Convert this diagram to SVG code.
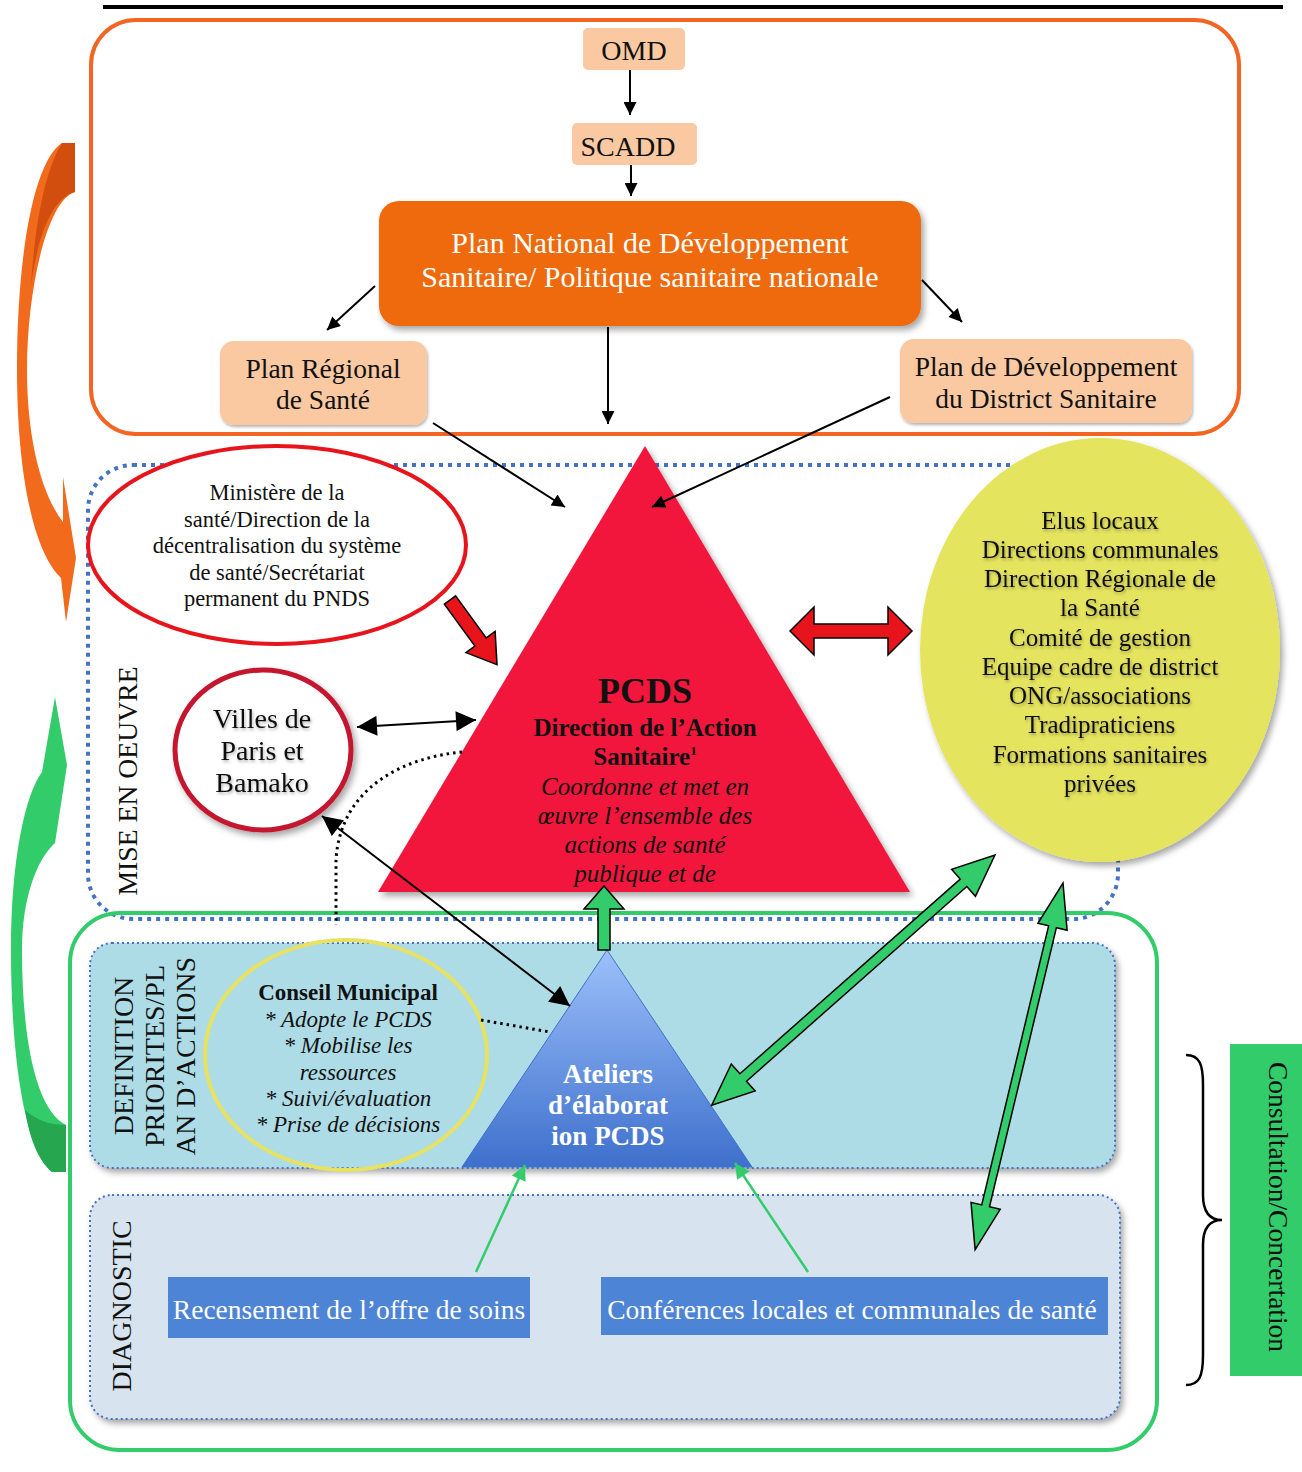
<svg xmlns="http://www.w3.org/2000/svg" width="1302" height="1472" viewBox="0 0 1302 1472">
<defs>
<style>
.t{font-family:"Liberation Serif","Times New Roman",serif;fill:#111;}
.c{text-anchor:middle;}
.w{fill:#fff;}
.b{font-weight:bold;}
.i{font-style:italic;}
.peach{fill:#FAC9A2;}
.ln{stroke:#000;stroke-width:2;fill:none;}
.gl{stroke:#33CC6B;stroke-width:2.5;fill:none;}
.dotb{fill:none;stroke:#4472C4;stroke-width:4;stroke-dasharray:4 5;}
.band{stroke:#4472C4;stroke-width:2;stroke-dasharray:2 3;}
</style>
<marker id="ah" viewBox="0 0 10 10" refX="10" refY="5" markerWidth="18" markerHeight="13" markerUnits="userSpaceOnUse" orient="auto-start-reverse"><path d="M0,0 L10,5 L0,10 z" fill="#000"/></marker>
<marker id="ahL" viewBox="0 0 10 10" refX="10" refY="5" markerWidth="22" markerHeight="20" markerUnits="userSpaceOnUse" orient="auto-start-reverse"><path d="M0,0 L10,5 L0,10 z" fill="#000"/></marker>
<marker id="gh" viewBox="0 0 10 10" refX="10" refY="5" markerWidth="18" markerHeight="15" markerUnits="userSpaceOnUse" orient="auto"><path d="M0,0 L10,5 L0,10 z" fill="#33CC6B"/></marker>
<filter id="sh" x="-10%" y="-10%" width="130%" height="130%"><feDropShadow dx="3" dy="4" stdDeviation="3" flood-color="#000" flood-opacity="0.35"/></filter>
<filter id="tsh" x="-5%" y="-20%" width="110%" height="150%"><feDropShadow dx="1" dy="2" stdDeviation="1.5" flood-color="#000" flood-opacity="0.3"/></filter>
<linearGradient id="atg" x1="0" y1="0" x2="0" y2="1"><stop offset="0" stop-color="#9CC0FA"/><stop offset="1" stop-color="#3E70CC"/></linearGradient>
</defs>

<line x1="103" y1="7" x2="1283" y2="7" stroke="#000" stroke-width="4"/>

<g id="zone-national">
<rect x="91" y="20" width="1148" height="414" rx="45" fill="none" stroke="#F26522" stroke-width="4"/>
</g>

<g id="zone-mise-en-oeuvre">
<rect x="88" y="465" width="1030" height="454" rx="45" class="dotb"/>
<text class="t c" transform="translate(137,781) rotate(-90)" font-size="27.7">MISE EN OEUVRE</text>
</g>

<g id="zone-consultation">
<rect x="70" y="913" width="1087" height="537" rx="50" fill="none" stroke="#33CC6B" stroke-width="4"/>
</g>

<g id="band-definition">
<rect x="90" y="943" width="1025" height="225" rx="22" fill="#ADDCE6" class="band" filter="url(#sh)"/>
<text class="t c" transform="translate(133,1056) rotate(-90)" font-size="28">DEFINITION</text>
<text class="t c" transform="translate(164,1056) rotate(-90)" font-size="28">PRIORITES/PL</text>
<text class="t c" transform="translate(195,1056) rotate(-90)" font-size="28">AN D’ACTIONS</text>
</g>

<g id="band-diagnostic">
<rect x="90" y="1195" width="1030" height="224" rx="22" fill="#D7E3EF" class="band" filter="url(#sh)"/>
<text class="t c" transform="translate(131,1306) rotate(-90)" font-size="28">DIAGNOSTIC</text>
</g>

<g id="curve-orange">
<path d="M62 143 L75 143 L75 192 C47 200 27 290 27 370 C27 440 42 495 63 522 L63 477 L76 558 L66 622 L61 578 C30 548 17 460 17 370 C17 250 35 160 62 143 Z" fill="#F26A1B"/>
<path d="M62 143 L75 143 L75 192 C52 198 38 235 31 285 C35 225 45 170 62 143 Z" fill="#D24E0E"/>
</g>

<g id="curve-green">
<path d="M66 1172 L52 1172 C25 1150 11 1060 11 950 C11 860 25 795 42 772 L55 697 L67 765 L55 843 C36 860 22 900 22 950 C22 1040 36 1110 66 1125 Z" fill="#33CC6B"/>
<path d="M66 1172 L52 1172 C38 1160 30 1140 25 1110 C36 1120 50 1125 66 1125 Z" fill="#27A650"/>
</g>

<g id="omd"><rect x="583" y="28" width="102" height="42" rx="5" class="peach"/><text class="t c" x="634" y="60" font-size="28">OMD</text></g>
<g id="scadd"><rect x="572" y="123" width="125" height="42" rx="5" class="peach"/><text class="t c" x="628" y="156" font-size="28">SCADD</text></g>
<g id="pnds"><rect x="379" y="201" width="542" height="125" rx="20" fill="#EE6A0B" filter="url(#sh)"/>
<text class="t c w" x="650" y="253" font-size="30">Plan National de Développement</text>
<text class="t c w" x="650" y="287" font-size="30">Sanitaire/ Politique sanitaire nationale</text></g>
<g id="prs"><rect x="220" y="341" width="207" height="84" rx="14" class="peach" filter="url(#tsh)"/>
<text class="t c" x="323" y="378" font-size="27.5">Plan Régional</text>
<text class="t c" x="323" y="409" font-size="27.5">de Santé</text></g>
<g id="pdds"><rect x="900" y="339" width="292" height="84" rx="14" class="peach" filter="url(#tsh)"/>
<text class="t c" x="1046" y="376" font-size="27.5">Plan de Développement</text>
<text class="t c" x="1046" y="408" font-size="27.5">du District Sanitaire</text></g>

<g id="ministere">
<ellipse cx="277" cy="545" rx="189" ry="99" fill="#fff" stroke="#E8141C" stroke-width="4"/>
<g class="t c" font-size="22.5">
<text x="277" y="500">Ministère de la</text>
<text x="277" y="527">santé/Direction de la</text>
<text x="277" y="553">décentralisation du système</text>
<text x="277" y="580">de santé/Secrétariat</text>
<text x="277" y="606">permanent du PNDS</text>
</g></g>

<g id="pcds">
<polygon points="645,446 910,892 378,892" fill="#F2183D" filter="url(#sh)"/>
<g class="t c" fill="#1a0000">
<text x="645" y="703" font-size="36" class="b">PCDS</text>
<text x="645" y="736" font-size="25" class="b">Direction de l’Action</text>
<text x="645" y="765" font-size="25" class="b">Sanitaire<tspan font-size="13" dy="-10">1</tspan></text>
<text x="645" y="795" font-size="25" class="i">Coordonne et met en</text>
<text x="645" y="824" font-size="25" class="i">œuvre l’ensemble des</text>
<text x="645" y="853" font-size="25" class="i">actions de santé</text>
<text x="645" y="882" font-size="25" class="i">publique et de</text>
</g></g>

<g id="acteurs">
<ellipse cx="1100" cy="650" rx="180" ry="212" fill="#E5E45E" filter="url(#sh)"/>
<g class="t c" font-size="25" filter="url(#tsh)">
<text x="1100" y="529">Elus locaux</text>
<text x="1100" y="558">Directions communales</text>
<text x="1100" y="587">Direction Régionale de</text>
<text x="1100" y="616">la Santé</text>
<text x="1100" y="646">Comité de gestion</text>
<text x="1100" y="675">Equipe cadre de district</text>
<text x="1100" y="704">ONG/associations</text>
<text x="1100" y="733">Tradipraticiens</text>
<text x="1100" y="763">Formations sanitaires</text>
<text x="1100" y="792">privées</text>
</g></g>

<g id="villes">
<ellipse cx="263" cy="750" rx="88" ry="80" fill="#fff" stroke="#C4172F" stroke-width="5" filter="url(#sh)"/>
<g class="t c" font-size="28" filter="url(#tsh)">
<text x="262" y="728">Villes de</text>
<text x="262" y="760">Paris et</text>
<text x="262" y="792">Bamako</text>
</g></g>

<g id="conseil">
<ellipse cx="346" cy="1055" rx="141" ry="115" fill="none" stroke="#E8E262" stroke-width="4"/>
<g class="t c" font-size="23">
<text x="348" y="1000" class="b">Conseil Municipal</text>
<text x="348" y="1027" class="i">* Adopte le PCDS</text>
<text x="348" y="1053" class="i">* Mobilise les</text>
<text x="348" y="1080" class="i">ressources</text>
<text x="348" y="1106" class="i">* Suivi/évaluation</text>
<text x="348" y="1132" class="i">* Prise de décisions</text>
</g></g>

<g id="ateliers">
<polygon points="607,950 752,1167 462,1167" fill="url(#atg)" stroke="#3E70CC" stroke-width="1"/>
<g class="t c w b" font-size="27">
<text x="608" y="1083">Ateliers</text>
<text x="608" y="1114">d’élaborat</text>
<text x="608" y="1145">ion PCDS</text>
</g></g>

<g id="recensement"><rect x="168" y="1277" width="362" height="61" fill="#4E84D6"/><text class="t c w" x="349" y="1319" font-size="27.5">Recensement de l’offre de soins</text></g>
<g id="conferences"><rect x="601" y="1277" width="507" height="58" fill="#4E84D6"/><text class="t c w" x="852" y="1319" font-size="27.5">Conférences locales et communales de santé</text></g>

<g id="consultation">
<rect x="1230" y="1044" width="72" height="332" fill="#33CC6B"/>
<text class="t c" transform="translate(1269,1207) rotate(90)" font-size="27.5">Consultation/Concertation</text>
</g>

<g id="connectors">
<line x1="630" y1="70" x2="630" y2="115" class="ln" marker-end="url(#ah)"/>
<line x1="631" y1="165" x2="631" y2="196" class="ln" marker-end="url(#ah)"/>
<line x1="375" y1="286" x2="327" y2="330" class="ln" marker-end="url(#ah)"/>
<line x1="922" y1="280" x2="962" y2="322" class="ln" marker-end="url(#ah)"/>
<line x1="608" y1="327" x2="608" y2="424" class="ln" marker-end="url(#ah)"/>
<line x1="433" y1="423" x2="565" y2="507" class="ln" marker-end="url(#ah)"/>
<line x1="890" y1="397" x2="652" y2="507" class="ln" marker-end="url(#ah)"/>
<line x1="357" y1="727" x2="476" y2="720" class="ln" stroke-width="3" marker-start="url(#ahL)" marker-end="url(#ahL)"/>
<line x1="322" y1="816" x2="570" y2="1006" class="ln" stroke-width="3" marker-start="url(#ahL)" marker-end="url(#ahL)"/>
<path d="M462 752 C400 758 340 790 336 860 L336 925" fill="none" stroke="#000" stroke-width="3" stroke-dasharray="2.5 4"/>
<line x1="481" y1="1020" x2="550" y2="1032" stroke="#000" stroke-width="3" stroke-dasharray="2.5 4"/>
<polygon points="0,-7 52,-7 52,-18 80,0 52,18 52,7 0,7" transform="translate(450,600) rotate(54)" fill="#E8141C" stroke="#000" stroke-width="1.5"/>
<polygon points="790,631 814,607 814,624 888,624 888,607 912,631 888,655 888,638 814,638 814,655" fill="#E8141C" stroke="#000" stroke-width="1.5"/>
<polygon points="604,886 624,909 610,909 610,950 598,950 598,909 584,909" fill="#33CC6B" stroke="#000" stroke-width="1.5"/>
<polygon points="0,0 42,-18 42,-5 336,-5 336,-18 378,0 336,18 336,5 42,5 42,18" transform="translate(995,855) rotate(138.54)" fill="#33CC6B" stroke="#000" stroke-width="1.5"/>
<polygon points="0,0 45,-15 45,-4 332,-4 332,-15 377,0 332,15 332,4 45,4 45,15" transform="translate(1063,883) rotate(103.48)" fill="#33CC6B" stroke="#000" stroke-width="1.5"/>
<line x1="476" y1="1272" x2="525" y2="1165" class="gl" marker-end="url(#gh)"/>
<line x1="808" y1="1272" x2="735" y2="1163" class="gl" marker-end="url(#gh)"/>
<path d="M1186 1055 C1200 1055 1203 1065 1203 1085 L1203 1195 C1203 1212 1210 1220 1222 1220 C1210 1220 1203 1228 1203 1245 L1203 1355 C1203 1377 1199 1385 1186 1385" fill="none" stroke="#000" stroke-width="2.5"/>
</g>
</svg>
